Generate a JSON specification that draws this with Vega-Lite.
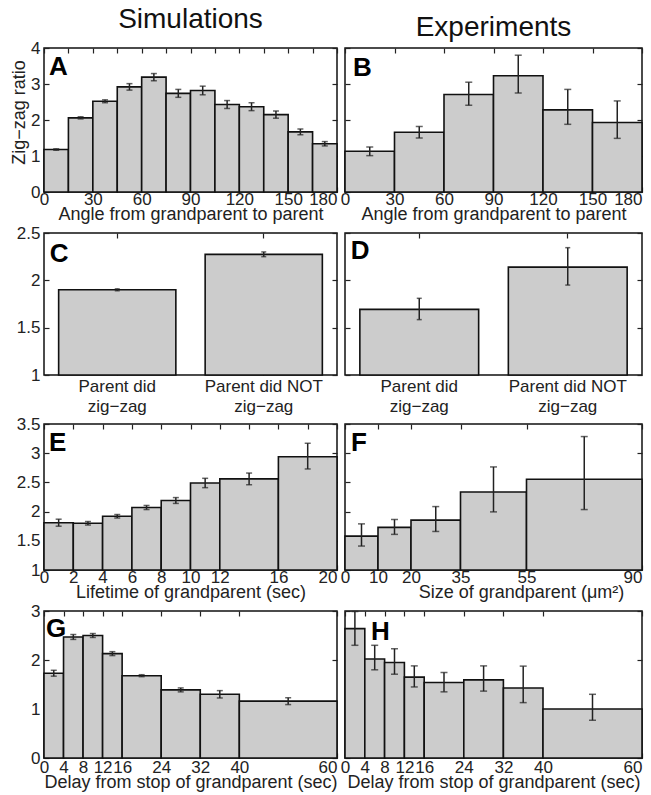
{
  "$schema": "https://vega.github.io/schema/vega-lite/v6.json",
  "background": "white",
  "padding": {"left": 9, "top": 5, "right": 0, "bottom": 0},
  "columns": 2,
  "align": "each",
  "bounds": "full",
  "spacing": {"row": -1, "column": 0},
  "config": {
    "font": "Liberation Sans",
    "view": {"stroke": "#111", "strokeWidth": 1.5},
    "axis": {"labelFont": "Liberation Sans", "titleFont": "Liberation Sans", "labelFontSize": 17, "titleFontSize": 18, "titleFontWeight": "normal", "labelColor": "#222", "titleColor": "#222", "tickColor": "#222", "tickSize": -5, "tickWidth": 1.2, "domain": false, "grid": false, "labelOverlap": false, "labelFlush": false, "labelBound": false, "titlePadding": 0},
    "title": {"font": "Liberation Sans", "fontSize": 28, "fontWeight": "normal", "color": "#111", "offset": 5}
  },
  "datasets": {
    "A": [
      {"x0": 0, "x1": 15, "xm": 7.5, "v": 1.18, "lo": 1.16, "hi": 1.20},
      {"x0": 15, "x1": 30, "xm": 22.5, "v": 2.06, "lo": 2.03, "hi": 2.09},
      {"x0": 30, "x1": 45, "xm": 37.5, "v": 2.52, "lo": 2.48, "hi": 2.56},
      {"x0": 45, "x1": 60, "xm": 52.5, "v": 2.92, "lo": 2.83, "hi": 3.01},
      {"x0": 60, "x1": 75, "xm": 67.5, "v": 3.19, "lo": 3.09, "hi": 3.29},
      {"x0": 75, "x1": 90, "xm": 82.5, "v": 2.74, "lo": 2.63, "hi": 2.85},
      {"x0": 90, "x1": 105, "xm": 97.5, "v": 2.82, "lo": 2.70, "hi": 2.94},
      {"x0": 105, "x1": 120, "xm": 112.5, "v": 2.43, "lo": 2.32, "hi": 2.54},
      {"x0": 120, "x1": 135, "xm": 127.5, "v": 2.37, "lo": 2.26, "hi": 2.48},
      {"x0": 135, "x1": 150, "xm": 142.5, "v": 2.15, "lo": 2.05, "hi": 2.25},
      {"x0": 150, "x1": 165, "xm": 157.5, "v": 1.67, "lo": 1.59, "hi": 1.75},
      {"x0": 165, "x1": 180, "xm": 172.5, "v": 1.34, "lo": 1.28, "hi": 1.40}
    ],
    "B": [
      {"x0": 0, "x1": 30, "xm": 15, "v": 1.13, "lo": 1.01, "hi": 1.25},
      {"x0": 30, "x1": 60, "xm": 45, "v": 1.66, "lo": 1.50, "hi": 1.82},
      {"x0": 60, "x1": 90, "xm": 75, "v": 2.71, "lo": 2.41, "hi": 3.05},
      {"x0": 90, "x1": 120, "xm": 105, "v": 3.23, "lo": 2.75, "hi": 3.80},
      {"x0": 120, "x1": 150, "xm": 135, "v": 2.28, "lo": 1.88, "hi": 2.85},
      {"x0": 150, "x1": 180, "xm": 165, "v": 1.93, "lo": 1.49, "hi": 2.53}
    ],
    "C": [
      {"cat": "Parent did|zig−zag", "v": 1.90, "lo": 1.89, "hi": 1.91},
      {"cat": "Parent did NOT|zig−zag", "v": 2.274, "lo": 2.25, "hi": 2.30}
    ],
    "D": [
      {"cat": "Parent did|zig−zag", "v": 1.693, "lo": 1.585, "hi": 1.81},
      {"cat": "Parent did NOT|zig−zag", "v": 2.14, "lo": 1.95, "hi": 2.345}
    ],
    "E": [
      {"x0": 0, "x1": 2, "xm": 1, "v": 1.81, "lo": 1.75, "hi": 1.87},
      {"x0": 2, "x1": 4, "xm": 3, "v": 1.80, "lo": 1.77, "hi": 1.83},
      {"x0": 4, "x1": 6, "xm": 5, "v": 1.92, "lo": 1.89, "hi": 1.95},
      {"x0": 6, "x1": 8, "xm": 7, "v": 2.07, "lo": 2.035, "hi": 2.105},
      {"x0": 8, "x1": 10, "xm": 9, "v": 2.19, "lo": 2.14, "hi": 2.24},
      {"x0": 10, "x1": 12, "xm": 11, "v": 2.49, "lo": 2.41, "hi": 2.57},
      {"x0": 12, "x1": 16, "xm": 14, "v": 2.56, "lo": 2.46, "hi": 2.66},
      {"x0": 16, "x1": 20, "xm": 18, "v": 2.94, "lo": 2.73, "hi": 3.17}
    ],
    "F": [
      {"x0": 0, "x1": 10, "xm": 5, "v": 1.58, "lo": 1.41, "hi": 1.79},
      {"x0": 10, "x1": 20, "xm": 15, "v": 1.73, "lo": 1.61, "hi": 1.865},
      {"x0": 20, "x1": 35, "xm": 27.5, "v": 1.854, "lo": 1.66, "hi": 2.086},
      {"x0": 35, "x1": 55, "xm": 45, "v": 2.335, "lo": 1.995, "hi": 2.765},
      {"x0": 55, "x1": 90, "xm": 72.5, "v": 2.555, "lo": 2.035, "hi": 3.285}
    ],
    "G": [
      {"x0": 0, "x1": 4, "xm": 2, "v": 1.73, "lo": 1.67, "hi": 1.79},
      {"x0": 4, "x1": 8, "xm": 6, "v": 2.47, "lo": 2.42, "hi": 2.52},
      {"x0": 8, "x1": 12, "xm": 10, "v": 2.50, "lo": 2.46, "hi": 2.54},
      {"x0": 12, "x1": 16, "xm": 14, "v": 2.13, "lo": 2.09, "hi": 2.17},
      {"x0": 16, "x1": 24, "xm": 20, "v": 1.68, "lo": 1.66, "hi": 1.70},
      {"x0": 24, "x1": 32, "xm": 28, "v": 1.39, "lo": 1.35, "hi": 1.43},
      {"x0": 32, "x1": 40, "xm": 36, "v": 1.30, "lo": 1.225, "hi": 1.375},
      {"x0": 40, "x1": 60, "xm": 50, "v": 1.16, "lo": 1.09, "hi": 1.23}
    ],
    "H": [
      {"x0": 0, "x1": 4, "xm": 2, "v": 2.64, "lo": 2.30, "hi": 2.99},
      {"x0": 4, "x1": 8, "xm": 6, "v": 2.02, "lo": 1.80, "hi": 2.30},
      {"x0": 8, "x1": 12, "xm": 10, "v": 1.95, "lo": 1.71, "hi": 2.23},
      {"x0": 12, "x1": 16, "xm": 14, "v": 1.65, "lo": 1.45, "hi": 1.88},
      {"x0": 16, "x1": 24, "xm": 20, "v": 1.54, "lo": 1.35, "hi": 1.745},
      {"x0": 24, "x1": 32, "xm": 28, "v": 1.595, "lo": 1.365, "hi": 1.88},
      {"x0": 32, "x1": 40, "xm": 36, "v": 1.43, "lo": 1.13, "hi": 1.875},
      {"x0": 40, "x1": 60, "xm": 50, "v": 1.0, "lo": 0.77, "hi": 1.30}
    ]
  },
  "concat": [
    {
      "width": 293, "height": 144,
      "title": {"text": "Simulations"},
      "data": {"name": "A"},
      "layer": [
        {"mark": {"type": "rect", "fill": "#cccccc", "stroke": "#111", "strokeWidth": 1.6},
         "encoding": {
           "x": {"field": "x0", "type": "quantitative", "scale": {"domain": [0, 180], "nice": false, "zero": false},
                 "axis": {"orient": "bottom", "values": [0,15,30,45,60,75,90,105,120,135,150,165,180], "labelExpr": "datum.value % 30 == 0 ? datum.label : ''", "labelAlign": {"condition": {"test": "datum.value == 180", "value": "right"}, "value": "center"}, "labelPadding": 4, "titlePadding": -2, "title": "Angle from grandparent to parent"}},
           "x2": {"field": "x1"},
           "y": {"field": "v", "type": "quantitative", "scale": {"domain": [0, 4], "nice": false, "zero": false},
                 "axis": {"orient": "left", "values": [0,1,2,3,4], "format": "~g", "labelPadding": 9, "title": "Zig−zag ratio", "titlePadding": 2, "titleY": 64}},
           "y2": {"datum": 0}
         }},
        {"mark": {"type": "rule", "color": "#222", "strokeWidth": 1.5},
         "encoding": {
           "x": {"field": "xm", "type": "quantitative", "axis": {"orient": "top", "values": [0,15,30,45,60,75,90,105,120,135,150,165,180], "labels": false, "title": null}},
           "y": {"field": "lo", "type": "quantitative", "axis": {"orient": "right", "values": [0,1,2,3,4], "labels": false, "title": null}},
           "y2": {"field": "hi"}
         }},
        {"mark": {"type": "tick", "orient": "horizontal", "size": 6, "thickness": 1.5, "color": "#222"},
         "encoding": {"x": {"field": "xm", "type": "quantitative", "axis": null}, "y": {"field": "lo", "type": "quantitative", "axis": null}}},
        {"mark": {"type": "tick", "orient": "horizontal", "size": 6, "thickness": 1.5, "color": "#222"},
         "encoding": {"x": {"field": "xm", "type": "quantitative", "axis": null}, "y": {"field": "hi", "type": "quantitative", "axis": null}}},
        {"data": {"values": [{"t": "A"}]},
         "mark": {"type": "text", "fontSize": 26, "fontWeight": "bold", "align": "left", "baseline": "alphabetic", "dx": 5, "dy": 27, "color": "#000"},
         "encoding": {"text": {"field": "t"}, "x": {"datum": 0, "type": "quantitative", "axis": null}, "y": {"datum": 4, "type": "quantitative", "axis": null}}}
      ],
      "resolve": {"axis": {"x": "independent", "y": "independent"}}
    },
    {
      "width": 297, "height": 144,
      "title": {"text": "Experiments"},
      "data": {"name": "B"},
      "layer": [
        {"mark": {"type": "rect", "fill": "#cccccc", "stroke": "#111", "strokeWidth": 1.6},
         "encoding": {
           "x": {"field": "x0", "type": "quantitative", "scale": {"domain": [0, 180], "nice": false, "zero": false},
                 "axis": {"orient": "bottom", "values": [0,30,60,90,120,150,180], "labelAlign": {"condition": {"test": "datum.value == 180", "value": "right"}, "value": "center"}, "labelPadding": 4, "titlePadding": -2, "title": "Angle from grandparent to parent"}},
           "x2": {"field": "x1"},
           "y": {"field": "v", "type": "quantitative", "scale": {"domain": [0, 4], "nice": false, "zero": false},
                 "axis": {"orient": "left", "values": [0,1,2,3,4], "labels": false, "title": null}},
           "y2": {"datum": 0}
         }},
        {"mark": {"type": "rule", "color": "#222", "strokeWidth": 1.5},
         "encoding": {
           "x": {"field": "xm", "type": "quantitative", "axis": {"orient": "top", "values": [0,30,60,90,120,150,180], "labels": false, "title": null}},
           "y": {"field": "lo", "type": "quantitative", "axis": {"orient": "right", "values": [0,1,2,3,4], "labels": false, "title": null}},
           "y2": {"field": "hi"}
         }},
        {"mark": {"type": "tick", "orient": "horizontal", "size": 7, "thickness": 1.5, "color": "#222"},
         "encoding": {"x": {"field": "xm", "type": "quantitative", "axis": null}, "y": {"field": "lo", "type": "quantitative", "axis": null}}},
        {"mark": {"type": "tick", "orient": "horizontal", "size": 7, "thickness": 1.5, "color": "#222"},
         "encoding": {"x": {"field": "xm", "type": "quantitative", "axis": null}, "y": {"field": "hi", "type": "quantitative", "axis": null}}},
        {"data": {"values": [{"t": "B"}]},
         "mark": {"type": "text", "fontSize": 26, "fontWeight": "bold", "align": "left", "baseline": "alphabetic", "dx": 8, "dy": 28, "color": "#000"},
         "encoding": {"text": {"field": "t"}, "x": {"datum": 0, "type": "quantitative", "axis": null}, "y": {"datum": 4, "type": "quantitative", "axis": null}}}
      ],
      "resolve": {"axis": {"x": "independent", "y": "independent"}}
    },
    {
      "width": 293, "height": 142,
      "data": {"name": "C"},
      "layer": [
        {"mark": {"type": "bar", "fill": "#cccccc", "stroke": "#111", "strokeWidth": 1.6},
         "encoding": {
           "x": {"field": "cat", "type": "nominal", "sort": null, "scale": {"type": "band", "paddingInner": 0.2, "paddingOuter": 0.1},
                 "axis": {"orient": "bottom", "labelAngle": 0, "labelExpr": "split(datum.label, '|')", "labelLineHeight": 20, "labelPadding": 8, "title": null}},
           "y": {"field": "v", "type": "quantitative", "scale": {"domain": [1, 2.5], "nice": false, "zero": false},
                 "axis": {"orient": "left", "values": [1,1.5,2,2.5], "format": "~g", "labelPadding": 9, "title": null}},
           "y2": {"datum": 1}
         }},
        {"mark": {"type": "rule", "color": "#222", "strokeWidth": 1.5},
         "encoding": {
           "x": {"field": "cat", "type": "nominal", "sort": null, "axis": {"orient": "top", "labels": false, "title": null}},
           "y": {"field": "lo", "type": "quantitative", "axis": {"orient": "right", "values": [1,1.5,2,2.5], "labels": false, "title": null}},
           "y2": {"field": "hi"}
         }},
        {"mark": {"type": "tick", "orient": "horizontal", "size": 5, "thickness": 1.5, "color": "#222"},
         "encoding": {"x": {"field": "cat", "type": "nominal", "sort": null, "axis": null}, "y": {"field": "lo", "type": "quantitative", "axis": null}}},
        {"mark": {"type": "tick", "orient": "horizontal", "size": 5, "thickness": 1.5, "color": "#222"},
         "encoding": {"x": {"field": "cat", "type": "nominal", "sort": null, "axis": null}, "y": {"field": "hi", "type": "quantitative", "axis": null}}},
        {"data": {"values": [{"t": "C", "cat": "Parent did|zig−zag"}]},
         "mark": {"type": "text", "fontSize": 26, "fontWeight": "bold", "align": "left", "baseline": "alphabetic", "dx": -9, "dy": 29, "color": "#000"},
         "encoding": {"text": {"field": "t"}, "x": {"field": "cat", "type": "nominal", "sort": null, "bandPosition": 0, "axis": null}, "y": {"datum": 2.5, "type": "quantitative", "axis": null}}}
      ],
      "resolve": {"axis": {"x": "independent", "y": "independent"}}
    },
    {
      "width": 297, "height": 142,
      "data": {"name": "D"},
      "layer": [
        {"mark": {"type": "bar", "fill": "#cccccc", "stroke": "#111", "strokeWidth": 1.6},
         "encoding": {
           "x": {"field": "cat", "type": "nominal", "sort": null, "scale": {"type": "band", "paddingInner": 0.2, "paddingOuter": 0.1},
                 "axis": {"orient": "bottom", "labelAngle": 0, "labelExpr": "split(datum.label, '|')", "labelLineHeight": 20, "labelPadding": 8, "title": null}},
           "y": {"field": "v", "type": "quantitative", "scale": {"domain": [1, 2.5], "nice": false, "zero": false},
                 "axis": {"orient": "left", "values": [1,1.5,2,2.5], "labels": false, "title": null}},
           "y2": {"datum": 1}
         }},
        {"mark": {"type": "rule", "color": "#222", "strokeWidth": 1.5},
         "encoding": {
           "x": {"field": "cat", "type": "nominal", "sort": null, "axis": {"orient": "top", "labels": false, "title": null}},
           "y": {"field": "lo", "type": "quantitative", "axis": {"orient": "right", "values": [1,1.5,2,2.5], "labels": false, "title": null}},
           "y2": {"field": "hi"}
         }},
        {"mark": {"type": "tick", "orient": "horizontal", "size": 5, "thickness": 1.5, "color": "#222"},
         "encoding": {"x": {"field": "cat", "type": "nominal", "sort": null, "axis": null}, "y": {"field": "lo", "type": "quantitative", "axis": null}}},
        {"mark": {"type": "tick", "orient": "horizontal", "size": 5, "thickness": 1.5, "color": "#222"},
         "encoding": {"x": {"field": "cat", "type": "nominal", "sort": null, "axis": null}, "y": {"field": "hi", "type": "quantitative", "axis": null}}},
        {"data": {"values": [{"t": "D", "cat": "Parent did|zig−zag"}]},
         "mark": {"type": "text", "fontSize": 26, "fontWeight": "bold", "align": "left", "baseline": "alphabetic", "dx": -9, "dy": 26, "color": "#000"},
         "encoding": {"text": {"field": "t"}, "x": {"field": "cat", "type": "nominal", "sort": null, "bandPosition": 0, "axis": null}, "y": {"datum": 2.5, "type": "quantitative", "axis": null}}}
      ],
      "resolve": {"axis": {"x": "independent", "y": "independent"}}
    },
    {
      "width": 293, "height": 146,
      "data": {"name": "E"},
      "layer": [
        {"mark": {"type": "rect", "fill": "#cccccc", "stroke": "#111", "strokeWidth": 1.6},
         "encoding": {
           "x": {"field": "x0", "type": "quantitative", "scale": {"domain": [0, 20], "nice": false, "zero": false},
                 "axis": {"orient": "bottom", "values": [0,2,4,6,8,10,12,14,16,18,20], "labelExpr": "datum.value == 14 || datum.value == 18 ? '' : datum.label", "labelAlign": {"condition": {"test": "datum.value == 20", "value": "right"}, "value": "center"}, "labelPadding": 4, "titlePadding": -2, "title": "Lifetime of grandparent (sec)"}},
           "x2": {"field": "x1"},
           "y": {"field": "v", "type": "quantitative", "scale": {"domain": [1, 3.5], "nice": false, "zero": false},
                 "axis": {"orient": "left", "values": [1,1.5,2,2.5,3,3.5], "format": "~g", "labelPadding": 9, "title": null}},
           "y2": {"datum": 1}
         }},
        {"mark": {"type": "rule", "color": "#222", "strokeWidth": 1.5},
         "encoding": {
           "x": {"field": "xm", "type": "quantitative", "axis": {"orient": "top", "values": [0,2,4,6,8,10,12,14,16,18,20], "labels": false, "title": null}},
           "y": {"field": "lo", "type": "quantitative", "axis": {"orient": "right", "values": [1,1.5,2,2.5,3,3.5], "labels": false, "title": null}},
           "y2": {"field": "hi"}
         }},
        {"mark": {"type": "tick", "orient": "horizontal", "size": 6, "thickness": 1.5, "color": "#222"},
         "encoding": {"x": {"field": "xm", "type": "quantitative", "axis": null}, "y": {"field": "lo", "type": "quantitative", "axis": null}}},
        {"mark": {"type": "tick", "orient": "horizontal", "size": 6, "thickness": 1.5, "color": "#222"},
         "encoding": {"x": {"field": "xm", "type": "quantitative", "axis": null}, "y": {"field": "hi", "type": "quantitative", "axis": null}}},
        {"data": {"values": [{"t": "E"}]},
         "mark": {"type": "text", "fontSize": 26, "fontWeight": "bold", "align": "left", "baseline": "alphabetic", "dx": 5, "dy": 27, "color": "#000"},
         "encoding": {"text": {"field": "t"}, "x": {"datum": 0, "type": "quantitative", "axis": null}, "y": {"datum": 3.5, "type": "quantitative", "axis": null}}}
      ],
      "resolve": {"axis": {"x": "independent", "y": "independent"}}
    },
    {
      "width": 297, "height": 146,
      "data": {"name": "F"},
      "layer": [
        {"mark": {"type": "rect", "fill": "#cccccc", "stroke": "#111", "strokeWidth": 1.6},
         "encoding": {
           "x": {"field": "x0", "type": "quantitative", "scale": {"domain": [0, 90], "nice": false, "zero": false},
                 "axis": {"orient": "bottom", "values": [0,10,20,35,55,90], "labelAlign": {"condition": {"test": "datum.value == 90", "value": "right"}, "value": "center"}, "labelPadding": 4, "titlePadding": -2, "title": "Size of grandparent (μm²)", "titleX": 176}},
           "x2": {"field": "x1"},
           "y": {"field": "v", "type": "quantitative", "scale": {"domain": [1, 3.5], "nice": false, "zero": false},
                 "axis": {"orient": "left", "values": [1,1.5,2,2.5,3,3.5], "labels": false, "title": null}},
           "y2": {"datum": 1}
         }},
        {"mark": {"type": "rule", "color": "#222", "strokeWidth": 1.5},
         "encoding": {
           "x": {"field": "xm", "type": "quantitative", "axis": {"orient": "top", "values": [0,10,20,35,55,90], "labels": false, "title": null}},
           "y": {"field": "lo", "type": "quantitative", "axis": {"orient": "right", "values": [1,1.5,2,2.5,3,3.5], "labels": false, "title": null}},
           "y2": {"field": "hi"}
         }},
        {"mark": {"type": "tick", "orient": "horizontal", "size": 7, "thickness": 1.5, "color": "#222"},
         "encoding": {"x": {"field": "xm", "type": "quantitative", "axis": null}, "y": {"field": "lo", "type": "quantitative", "axis": null}}},
        {"mark": {"type": "tick", "orient": "horizontal", "size": 7, "thickness": 1.5, "color": "#222"},
         "encoding": {"x": {"field": "xm", "type": "quantitative", "axis": null}, "y": {"field": "hi", "type": "quantitative", "axis": null}}},
        {"data": {"values": [{"t": "F"}]},
         "mark": {"type": "text", "fontSize": 26, "fontWeight": "bold", "align": "left", "baseline": "alphabetic", "dx": 6, "dy": 27, "color": "#000"},
         "encoding": {"text": {"field": "t"}, "x": {"datum": 0, "type": "quantitative", "axis": null}, "y": {"datum": 3.5, "type": "quantitative", "axis": null}}}
      ],
      "resolve": {"axis": {"x": "independent", "y": "independent"}}
    },
    {
      "width": 293, "height": 147,
      "data": {"name": "G"},
      "layer": [
        {"mark": {"type": "rect", "fill": "#cccccc", "stroke": "#111", "strokeWidth": 1.6},
         "encoding": {
           "x": {"field": "x0", "type": "quantitative", "scale": {"domain": [0, 60], "nice": false, "zero": false},
                 "axis": {"orient": "bottom", "values": [0,4,8,12,16,24,32,40,60], "labelAlign": {"condition": {"test": "datum.value == 60", "value": "right"}, "value": "center"}, "labelPadding": 6, "titlePadding": -2, "title": "Delay from stop of grandparent (sec)"}},
           "x2": {"field": "x1"},
           "y": {"field": "v", "type": "quantitative", "scale": {"domain": [0, 3], "nice": false, "zero": false},
                 "axis": {"orient": "left", "values": [0,1,2,3], "format": "~g", "labelPadding": 9, "title": null}},
           "y2": {"datum": 0}
         }},
        {"mark": {"type": "rule", "color": "#222", "strokeWidth": 1.5},
         "encoding": {
           "x": {"field": "xm", "type": "quantitative", "axis": {"orient": "top", "values": [0,4,8,12,16,24,32,40,60], "labels": false, "title": null}},
           "y": {"field": "lo", "type": "quantitative", "axis": {"orient": "right", "values": [0,1,2,3], "labels": false, "title": null}},
           "y2": {"field": "hi"}
         }},
        {"mark": {"type": "tick", "orient": "horizontal", "size": 6, "thickness": 1.5, "color": "#222"},
         "encoding": {"x": {"field": "xm", "type": "quantitative", "axis": null}, "y": {"field": "lo", "type": "quantitative", "axis": null}}},
        {"mark": {"type": "tick", "orient": "horizontal", "size": 6, "thickness": 1.5, "color": "#222"},
         "encoding": {"x": {"field": "xm", "type": "quantitative", "axis": null}, "y": {"field": "hi", "type": "quantitative", "axis": null}}},
        {"data": {"values": [{"t": "G"}]},
         "mark": {"type": "text", "fontSize": 26, "fontWeight": "bold", "align": "left", "baseline": "alphabetic", "dx": 2, "dy": 26, "color": "#000"},
         "encoding": {"text": {"field": "t"}, "x": {"datum": 0, "type": "quantitative", "axis": null}, "y": {"datum": 3, "type": "quantitative", "axis": null}}}
      ],
      "resolve": {"axis": {"x": "independent", "y": "independent"}}
    },
    {
      "width": 297, "height": 147,
      "data": {"name": "H"},
      "layer": [
        {"mark": {"type": "rect", "fill": "#cccccc", "stroke": "#111", "strokeWidth": 1.6},
         "encoding": {
           "x": {"field": "x0", "type": "quantitative", "scale": {"domain": [0, 60], "nice": false, "zero": false},
                 "axis": {"orient": "bottom", "values": [0,4,8,12,16,24,32,40,60], "labelAlign": {"condition": {"test": "datum.value == 60", "value": "right"}, "value": "center"}, "labelPadding": 6, "titlePadding": -2, "title": "Delay from stop of grandparent (sec)"}},
           "x2": {"field": "x1"},
           "y": {"field": "v", "type": "quantitative", "scale": {"domain": [0, 3], "nice": false, "zero": false},
                 "axis": {"orient": "left", "values": [0,1,2,3], "labels": false, "title": null}},
           "y2": {"datum": 0}
         }},
        {"mark": {"type": "rule", "color": "#222", "strokeWidth": 1.5},
         "encoding": {
           "x": {"field": "xm", "type": "quantitative", "axis": {"orient": "top", "values": [0,4,8,12,16,24,32,40,60], "labels": false, "title": null}},
           "y": {"field": "lo", "type": "quantitative", "axis": {"orient": "right", "values": [0,1,2,3], "labels": false, "title": null}},
           "y2": {"field": "hi"}
         }},
        {"mark": {"type": "tick", "orient": "horizontal", "size": 7, "thickness": 1.5, "color": "#222"},
         "encoding": {"x": {"field": "xm", "type": "quantitative", "axis": null}, "y": {"field": "lo", "type": "quantitative", "axis": null}}},
        {"mark": {"type": "tick", "orient": "horizontal", "size": 7, "thickness": 1.5, "color": "#222"},
         "encoding": {"x": {"field": "xm", "type": "quantitative", "axis": null}, "y": {"field": "hi", "type": "quantitative", "axis": null}}},
        {"data": {"values": [{"t": "H"}]},
         "mark": {"type": "text", "fontSize": 26, "fontWeight": "bold", "align": "left", "baseline": "alphabetic", "dx": 26, "dy": 29, "color": "#000"},
         "encoding": {"text": {"field": "t"}, "x": {"datum": 0, "type": "quantitative", "axis": null}, "y": {"datum": 3, "type": "quantitative", "axis": null}}}
      ],
      "resolve": {"axis": {"x": "independent", "y": "independent"}}
    }
  ]
}
